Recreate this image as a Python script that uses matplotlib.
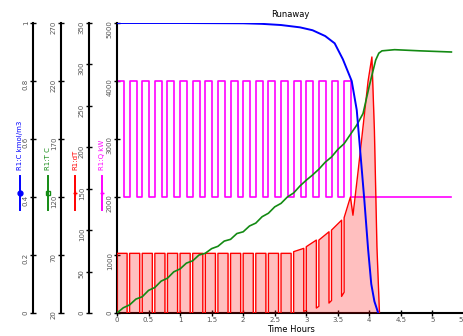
import matplotlib
matplotlib.use("Agg")
import matplotlib.pyplot as plt
from matplotlib.lines import Line2D

# Reactor R1 runaway trace
# concentration (kmol/m3)
conc_t = [0.0, 1.0, 2.0, 2.3, 2.6, 2.9, 3.1, 3.3, 3.45, 3.58, 3.72, 3.80,
          3.87, 3.92, 3.98, 4.03, 4.08, 4.14]
conc = [1.0, 1.0, 0.999, 0.997, 0.993, 0.985, 0.975, 0.955, 0.93, 0.875, 0.80,
        0.70, 0.52, 0.39, 0.22, 0.10, 0.04, 0.0]

# temperature (C)
temp_t = [0.0, 0.1, 0.2, 0.3, 0.4, 0.5, 0.6, 0.7, 0.8, 0.9, 1.0, 1.1, 1.2, 1.3,
          1.4, 1.5, 1.6, 1.7, 1.8, 1.9, 2.0, 2.1, 2.2, 2.3, 2.4, 2.5, 2.6, 2.7,
          2.8, 2.9, 3.0, 3.1, 3.2, 3.3, 3.4, 3.5, 3.6, 3.7, 3.8, 3.9, 4.0, 4.1,
          4.15, 4.2, 4.4, 4.8, 5.3]
temp = [20, 24.5, 27, 32, 34, 39.5, 42, 47.5, 50, 55.5, 58, 63, 65, 70, 71.5,
        75.5, 77.5, 82, 83.5, 88.5, 90, 95, 97.5, 103, 106, 111.5, 114.5, 120,
        123.5, 129.5, 134.5, 139, 144, 150, 154.5, 161, 166, 174, 182, 192,
        216, 238, 244, 246, 247, 246, 245]

# heat duty switching (kW)
duty_t = [0.00, 0.00, 0.11, 0.20, 0.31, 0.40, 0.51, 0.60, 0.71, 0.80, 0.91,
          1.00, 1.11, 1.20, 1.31, 1.40, 1.51, 1.60, 1.71, 1.80, 1.91, 2.00,
          2.11, 2.20, 2.31, 2.40, 2.51, 2.60, 2.71, 2.80, 2.91, 3.00, 3.11,
          3.20, 3.31, 3.40, 3.51, 3.60, 3.71, 5.30]
duty = [2000, 4000, 2000, 4000, 2000, 4000, 2000, 4000, 2000, 4000, 2000,
        4000, 2000, 4000, 2000, 4000, 2000, 4000, 2000, 4000, 2000, 4000,
        2000, 4000, 2000, 4000, 2000, 4000, 2000, 4000, 2000, 4000, 2000,
        4000, 2000, 4000, 2000, 4000, 2000, 2000]

# temperature rise: switched part, then sawtooth and runaway peak
dtemp_t = [0.00, 0.00, 0.16, 0.20, 0.36, 0.40, 0.56, 0.60, 0.76, 0.80, 0.96,
           1.00, 1.16, 1.20, 1.36, 1.40, 1.56, 1.60, 1.76, 1.80, 1.96, 2.00,
           2.16, 2.20, 2.36, 2.40, 2.56, 2.60, 2.76]
dtemp = [0, 72, 0, 72, 0, 72, 0, 72, 0, 72, 0, 72, 0, 72, 0, 72, 0, 72, 0,
         72, 0, 72, 0, 72, 0, 72, 0, 72, 0]
dtemp_tail_t = [2.80, 2.80, 2.96, 2.96, 3.00, 3.00, 3.16, 3.16, 3.20, 3.20,
                3.36, 3.36, 3.40, 3.40, 3.56, 3.56, 3.60, 3.60, 3.70, 3.74,
                3.82, 3.90, 3.98, 4.04, 4.08, 4.12, 4.16]
dtemp_tail = [0, 74, 78, 2, 3, 80, 88, 6, 8, 88, 98, 12, 15, 100, 112, 20, 25,
              115, 140, 118, 170, 225, 280, 309, 220, 80, 0]

x_ticks = [0, 0.5, 1, 1.5, 2, 2.5, 3, 3.5, 4, 4.5, 5, 5.5]
x_ticklabels = ["0", "0.5", "1", "1.5", "2", "2.5", "3", "3.5", "4", "4.5",
                "5", "5.5"]
conc_ticks = [0, 0.2, 0.4, 0.6, 0.8, 1.0]
conc_ticklabels = ["0", "0.2", "0.4", "0.6", "0.8", "1"]
temp_ticks = [20, 70, 120, 170, 220, 270]
dtemp_ticks = [0, 50, 100, 150, 200, 250, 300, 350]
duty_ticks = [0, 1000, 2000, 3000, 4000, 5000]

BLUE, GREEN, RED, MAGENTA = "#0000ff", "#138a13", "#ff0000", "#ff00ff"
TICK_GREY = "#555555"


def step_vertices(times, levels):
    xs, ys = [], []
    for i, (t, v) in enumerate(zip(times, levels)):
        if i:
            xs.append(t)
            ys.append(levels[i - 1])
        xs.append(t)
        ys.append(v)
    return xs, ys


def style_y(a):
    a.tick_params(axis="y", direction="inout", length=4, width=1,
                  labelsize=5, labelcolor=TICK_GREY, labelrotation=90, pad=1)
    a.spines["left"].set_linewidth(1.5)


def extra_axis(offset):
    tw = ax.twinx()
    for side in ("right", "top", "bottom"):
        tw.spines[side].set_visible(False)
    tw.spines["left"].set_visible(True)
    tw.spines["left"].set_position(("axes", offset))
    tw.yaxis.set_ticks_position("left")
    tw.yaxis.set_label_position("left")
    style_y(tw)
    return tw


fig = plt.figure(figsize=(4.64, 3.36), dpi=100)
ax = fig.add_axes([117 / 464, 23 / 336, 347 / 464, 290 / 336])
for side in ("right", "top"):
    ax.spines[side].set_visible(False)
ax.spines["bottom"].set_linewidth(1.5)
style_y(ax)

ax.set_xlim(0, 5.5)
ax.set_xticks(x_ticks)
ax.set_xticklabels(x_ticklabels)
ax.tick_params(axis="x", direction="inout", length=4, width=1, labelsize=5,
               labelcolor=TICK_GREY, pad=1)
ax.set_xlabel("Time Hours", fontsize=6, labelpad=1)
ax.set_title("Runaway", fontsize=6, pad=4)

# heat duty on the main axis
ax.set_ylim(0, 5000)
ax.set_yticks(duty_ticks)
qx, qy = step_vertices(duty_t, duty)
ax.plot(qx, qy, color=MAGENTA, lw=1.2)

ax_dt = extra_axis(-28 / 347)
ax_temp = extra_axis(-56 / 347)
ax_conc = extra_axis(-84 / 347)

ax_dt.set_ylim(0, 350)
ax_dt.set_yticks(dtemp_ticks)
rx, ry = step_vertices(dtemp_t, dtemp)
rx += dtemp_tail_t
ry += dtemp_tail
ax_dt.fill_between(rx, ry, 0, color=RED, alpha=0.25, lw=0)
ax_dt.plot(rx, ry, color=RED, lw=1.0)

ax_temp.set_ylim(20, 270)
ax_temp.set_yticks(temp_ticks)
ax_temp.plot(temp_t, temp, color=GREEN, lw=1.2)

ax_conc.set_ylim(0, 1)
ax_conc.set_yticks(conc_ticks)
ax_conc.set_yticklabels(conc_ticklabels)
ax_conc.plot(conc_t, conc, color=BLUE, lw=1.4)

# legend-style axis titles next to each spine
axis_titles = [
    (20, "R1:C kmol/m3", BLUE, "o"),
    (48, "R1:T C", GREEN, "s"),
    (75, "R1:dT", RED, "+"),
    (102, "R1:Q kW", MAGENTA, "+"),
]
for px, label, color, marker in axis_titles:
    fx = px / 464
    fig.add_artist(Line2D([fx, fx], [126 / 336, 160 / 336], color=color,
                          lw=1.4, transform=fig.transFigure))
    fig.add_artist(Line2D([fx], [143 / 336], color=color, marker=marker,
                          ms=3.5, mfc="none" if marker == "s" else color,
                          mew=1.0, transform=fig.transFigure))
    fig.text(fx, 166 / 336, label, rotation=90, color=color, fontsize=5,
             ha="center", va="bottom")

fig.savefig("out.png", dpi=100)
